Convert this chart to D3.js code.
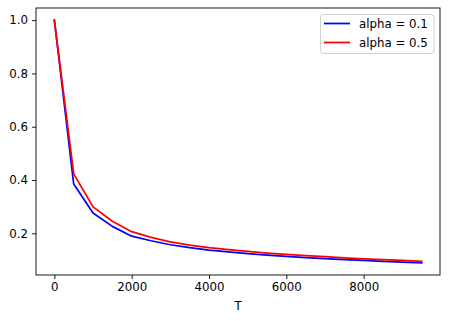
<!DOCTYPE html>
<html>
<head>
<meta charset="utf-8">
<script src="https://cdn.jsdelivr.net/npm/d3@7"></script>
<style>
  body { margin: 0; background: #fff; }
  text { font-family: "DejaVu Sans", sans-serif; }
</style>
</head>
<body>
<svg width="449" height="321"></svg>
<script>
const T = [0, 500, 1000, 1500, 2000, 2500, 3000, 3500, 4000, 4500,
           5000, 5500, 6000, 6500, 7000, 7500, 8000, 8500, 9000, 9500];
const alpha01 = [1.0, 0.385, 0.276, 0.226, 0.189, 0.172, 0.157, 0.146, 0.137, 0.130,
                 0.124, 0.118, 0.113, 0.109, 0.105, 0.101, 0.098, 0.095, 0.092, 0.089];
const alpha05 = [1.0, 0.423, 0.299, 0.245, 0.206, 0.185, 0.168, 0.156, 0.146, 0.139,
                 0.132, 0.126, 0.121, 0.116, 0.112, 0.108, 0.104, 0.101, 0.098, 0.095];
const xTicks = [0, 2000, 4000, 6000, 8000];
const yTicks = [0.2, 0.4, 0.6, 0.8, 1.0];

const series = [
  { name: "alpha = 0.1", values: alpha01, color: "#0000ff" },
  { name: "alpha = 0.5", values: alpha05, color: "#ff0000" }
];

const svg = d3.select("svg");
const plotLeft = 36, plotRight = 440, plotTop = 8, plotBottom = 275;
const fontPx = 11.8;

// matplotlib-style 5% margins
const xMin = d3.min(T), xMax = d3.max(T);
const allY = alpha01.concat(alpha05);
const yMin = d3.min(allY), yMax = d3.max(allY);
const xPad = (xMax - xMin) * 0.05, yPad = (yMax - yMin) * 0.05;

const x = d3.scaleLinear().domain([xMin - xPad, xMax + xPad]).range([plotLeft, plotRight]);
const y = d3.scaleLinear().domain([yMin - yPad, yMax + yPad]).range([plotBottom, plotTop]);

// --- AXES ---
const xAxis = svg.append("g")
    .attr("transform", `translate(0,${plotBottom})`)
    .call(d3.axisBottom(x).tickValues(xTicks).tickFormat(d3.format("d")).tickSizeOuter(0).tickSize(4).tickPadding(4));
const yAxis = svg.append("g")
    .attr("transform", `translate(${plotLeft},0)`)
    .call(d3.axisLeft(y).tickValues(yTicks).tickFormat(d3.format(".1f")).tickSizeOuter(0).tickSize(4).tickPadding(4));

[xAxis, yAxis].forEach(g => {
  g.select(".domain").remove();
  g.selectAll(".tick line").attr("stroke", "#000").attr("stroke-width", 0.9);
  g.selectAll(".tick text").attr("fill", "#000").style("font-size", fontPx + "px")
    .style("font-family", "DejaVu Sans, sans-serif");
});

// --- LINES ---
const line = d3.line().x((d, i) => x(T[i])).y(d => y(d));
series.forEach(s => {
  svg.append("path")
    .datum(s.values)
    .attr("d", line)
    .attr("fill", "none")
    .attr("stroke", s.color)
    .attr("stroke-width", 1.75)
    .attr("stroke-linejoin", "round")
    .attr("stroke-linecap", "square");
});

// frame
svg.append("rect")
  .attr("x", plotLeft).attr("y", plotTop)
  .attr("width", plotRight - plotLeft).attr("height", plotBottom - plotTop)
  .attr("fill", "none").attr("stroke", "#000").attr("stroke-width", 0.9);

// axis label
svg.append("text")
  .attr("x", (plotLeft + plotRight) / 2).attr("y", 310)
  .attr("text-anchor", "middle")
  .style("font-size", fontPx + "px")
  .text("T");

// --- LEGEND ---
const legend = svg.append("g").attr("transform", "translate(320.5,14.5)");
legend.append("rect")
  .attr("width", 113.5).attr("height", 39)
  .attr("rx", 3)
  .attr("fill", "#fff").attr("fill-opacity", 0.8)
  .attr("stroke", "#cccccc").attr("stroke-width", 0.9);
series.forEach((s, i) => {
  const ly = 9 + i * 19;
  legend.append("line")
    .attr("x1", 3.5).attr("x2", 29.5).attr("y1", ly).attr("y2", ly)
    .attr("stroke", s.color).attr("stroke-width", 1.75);
  legend.append("text")
    .attr("x", 38.5).attr("y", ly + 4.2)
    .style("font-size", fontPx + "px")
    .text(s.name);
});
</script>
</body>
</html>
